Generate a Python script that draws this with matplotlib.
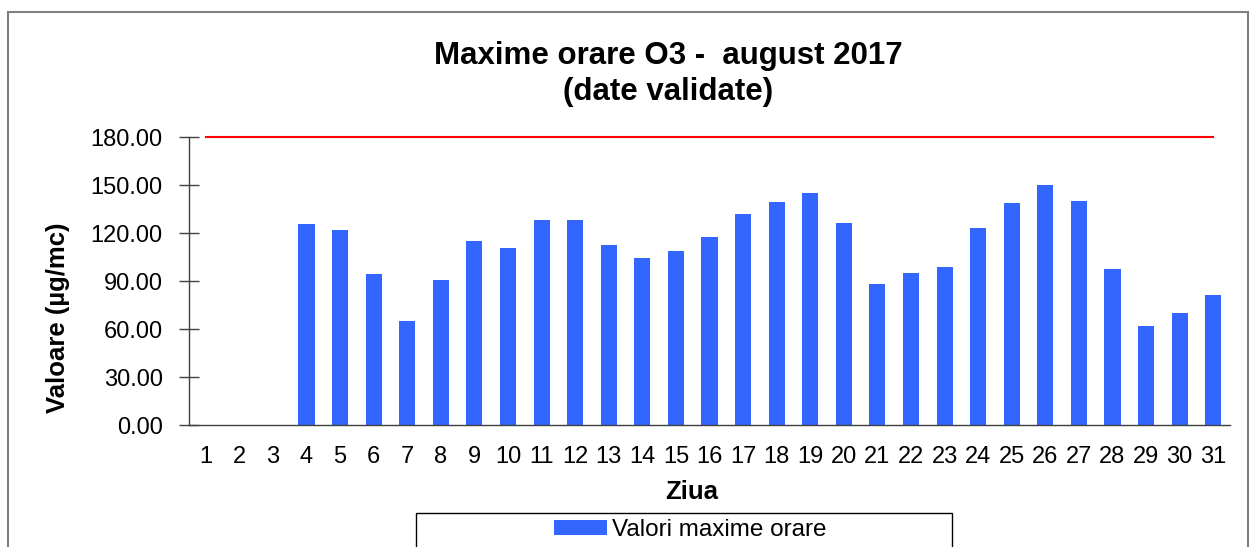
import matplotlib.pyplot as plt
from matplotlib.patches import Rectangle

plt.rcParams['font.family'] = ['Liberation Sans', 'DejaVu Sans']

days = list(range(1, 32))
# daily hourly maxima of O3 (ug/mc); days 1-3 have no data
values = [0, 0, 0, 125.9, 122.1, 94.5, 65.2, 90.7, 115.2, 110.8,
          128.2, 128.4, 112.3, 104.1, 108.9, 117.3, 131.7, 139.2, 144.9, 126.3,
          88.4, 95.3, 98.5, 122.9, 138.6, 150.3, 140.3, 97.6, 61.7, 70.0, 81.5]
limit = [180] * 31
yticks = [0, 30, 60, 90, 120, 150, 180]

W, H = 1253, 547
fig = plt.figure(figsize=(W / 100, H / 100), dpi=100)
ax = fig.add_axes([189 / W, 1 - 425 / H, (1230 - 189) / W, (425 - 137) / H])

ax.bar(days, values, width=0.48, color='#3366FF', zorder=2, label='Valori maxime orare')
ax.plot(days, limit, color='#FF0000', linewidth=1.5, zorder=3, clip_on=False)

ax.set_xlim(0.5, 31.5)
ax.set_ylim(0, 180)
ax.set_xticks(days)
ax.set_xticklabels([str(d) for d in days], fontsize=17)
ax.set_yticks(yticks)
ax.set_yticklabels(['%.2f' % v for v in yticks], fontsize=17)
ax.tick_params(axis='x', length=0, pad=15)
ax.tick_params(axis='y', direction='inout', length=14, width=1, color='#404040', pad=12)

for s in ['top', 'right']:
    ax.spines[s].set_visible(False)
for s in ['left', 'bottom']:
    ax.spines[s].set_color('#404040')
    ax.spines[s].set_linewidth(1)
    ax.spines[s].set_zorder(4)

fig.text(58 / W, 1 - 318 / H, 'Valoare (µg/mc)', rotation=90, ha='center', va='center',
         fontsize=18.5, fontweight='bold')
fig.text(692 / W, 1 - 499 / H, 'Ziua', ha='center', va='baseline',
         fontsize=18.5, fontweight='bold')

fig.text(668 / W, 1 - 64 / H, 'Maxime orare O3 -  august 2017',
         ha='center', va='baseline', fontsize=22.5, fontweight='bold')
fig.text(668 / W, 1 - 100 / H, '(date validate)',
         ha='center', va='baseline', fontsize=22.5, fontweight='bold')

# outer chart frame
fig.patches.append(Rectangle((8 / W, -0.1), (1248 - 8) / W, 1.1 - 12 / H,
                             transform=fig.transFigure, fill=False,
                             edgecolor='#808080', linewidth=1.5))

# legend box
fig.patches.append(Rectangle((416 / W, -0.1), (952 - 416) / W, 0.1 + 1 - 513 / H,
                             transform=fig.transFigure, fill=False,
                             edgecolor='#000000', linewidth=1))
h, l = ax.get_legend_handles_labels()
fig.legend(h, l, loc='center', bbox_to_anchor=(690 / W, 1 - 530 / H),
           frameon=False, fontsize=17.5, handlelength=2.2, handleheight=0.6,
           handletextpad=0.2, borderpad=0)

fig.savefig('out.png', dpi=100)
